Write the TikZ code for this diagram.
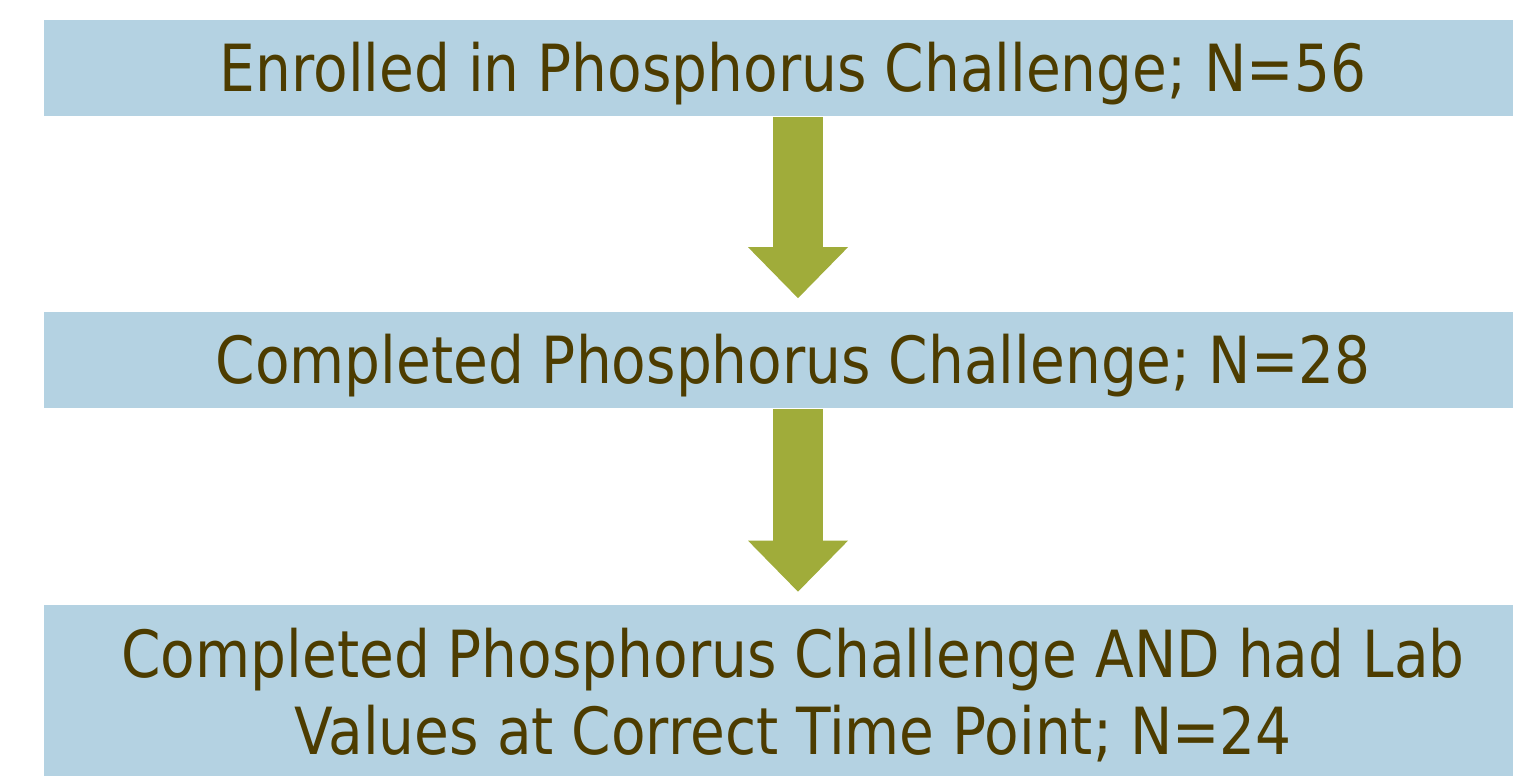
\documentclass[tikz,border=0pt]{standalone}
\usepackage{fontspec}
\setmainfont{DejaVu Sans}[FakeStretch=0.87]
\usepackage{xcolor}
\usetikzlibrary{arrows.meta, positioning}
\definecolor{boxblue}{HTML}{B4D2E2}
\definecolor{arrowgreen}{HTML}{A0AC3A}
\definecolor{textbrown}{HTML}{4D3C00}

\begin{document}
\begin{tikzpicture}[x=0.02cm, y=-0.02cm,
  stagebox/.style={fill=boxblue, text=textbrown, minimum width=29.96cm, align=center,
    font=\fontsize{37}{43.8}\selectfont, inner sep=0pt, text depth=0pt},
  flowarrow/.style={draw=arrowgreen, line width=1cm,
    -{Triangle[length=1.02cm, width=2cm, line width=0pt]}, shorten >=0.26cm}]
\useasboundingbox (0,0) rectangle (1513,776);

% Stages
\node[stagebox, minimum height=1.94cm, text height=0.95cm] (enrolled) at (793,68) {Enrolled in Phosphorus Challenge; N=56};
\node[stagebox, minimum height=1.94cm, text height=0.95cm] (completed) at (793,360) {Completed Phosphorus Challenge; N=28};
\node[stagebox, minimum height=3.44cm] (labvalues) at (793,691)
  {Completed Phosphorus Challenge AND had Lab\\Values at Correct Time Point; N=24};

% Arrows
\draw[flowarrow] ([xshift=0.1cm]enrolled.south) -- ([xshift=0.1cm]completed.north);
\draw[flowarrow] ([xshift=0.1cm]completed.south) -- ([xshift=0.1cm]labvalues.north);
\end{tikzpicture}
\end{document}
